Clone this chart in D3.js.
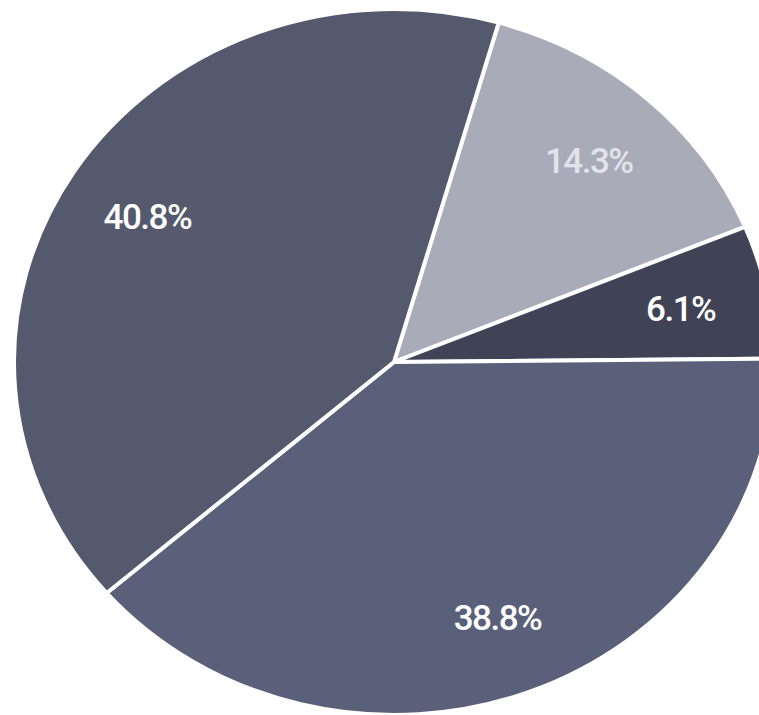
<!DOCTYPE html>
<html>
<head>
<meta charset="utf-8">
<script src="https://cdn.jsdelivr.net/npm/d3@7"></script>
<style>
  html, body { margin: 0; padding: 0; background: #ffffff; }
  svg { display: block; }
</style>
</head>
<body>
<svg id="chart" width="759" height="715"></svg>
<script>
// Data
const labels = ["14.3%", "6.1%", "38.8%", "40.8%"];
const values = [14.3, 6.1, 38.8, 40.8];
const colors = ["#a9abb8", "#404356", "#5a6079", "#55596d"];
const labelColors = ["#e2e3ea", "#ffffff", "#ffffff", "#ffffff"];

const width = 759, height = 715;
const cx = 394, cy = 362;
const rx = 380, ry = 353;
const yScale = ry / rx;
const startDeg = 16;

const svg = d3.select("#chart");

const pie = d3.pie()
  .sort(null)
  .value(d => d)
  .startAngle(startDeg * Math.PI / 180)
  .endAngle((startDeg + 360) * Math.PI / 180);

const arcs = pie(values);

const arc = d3.arc().innerRadius(0).outerRadius(rx);
const labelArc = d3.arc().innerRadius(rx * 0.77).outerRadius(rx * 0.77);

const g = svg.append("g").attr("transform", `translate(${cx},${cy})`);

g.append("g")
  .attr("transform", `scale(1,${yScale})`)
  .selectAll("path")
  .data(arcs)
  .join("path")
  .attr("d", arc)
  .attr("fill", (d, i) => colors[i])
  .attr("stroke", "#ffffff")
  .attr("stroke-width", 4)
  .attr("stroke-linejoin", "round")
  .attr("vector-effect", "non-scaling-stroke");

g.append("g")
  .selectAll("text")
  .data(arcs)
  .join("text")
  .attr("transform", d => {
    const c = labelArc.centroid(d);
    return `translate(${c[0]},${c[1] * yScale + 2})`;
  })
  .attr("text-anchor", "middle")
  .attr("dominant-baseline", "central")
  .attr("font-family", "Roboto, 'Open Sans', sans-serif")
  .attr("font-size", 35)
  .attr("font-weight", 500)
  .attr("letter-spacing", -1.5)
  .attr("fill", (d, i) => labelColors[i])
  .text((d, i) => labels[i]);
</script>
</body>
</html>
